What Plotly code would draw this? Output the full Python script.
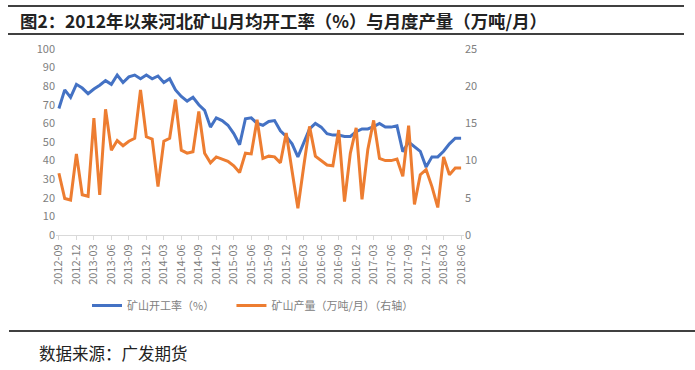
import plotly.graph_objects as go
import pandas as pd

months = pd.period_range("2012-09", "2018-06", freq="M").strftime("%Y-%m").tolist()

rate = [68, 78, 74, 81, 79, 76, 78.5, 80.5, 83, 81, 86, 82, 85, 86, 84, 86, 84, 85.5, 82, 84,
        78, 74.5, 72, 74, 70, 67, 58, 63, 61.5, 59, 54.5, 48.5, 62.5, 63, 60, 59, 61, 61.5, 56, 53,
        49, 42, 49.5, 57, 60, 58, 54.5, 53.7, 53.7, 53, 53, 55.5, 57, 57, 58.3, 60, 58, 58,
        58.7, 44.8, 50, 47.6, 45, 36.5, 42, 42, 45, 49, 52, 52]

output = [8.3, 4.9, 4.7, 10.9, 5.4, 5.2, 15.7, 5.4, 16.9, 11.4, 12.7, 12.0, 12.6, 13.0, 19.5, 13.2,
          12.9, 6.5, 12.6, 13.0, 18.2, 11.4, 11.0, 11.2, 16.6, 11.0, 9.7, 10.5, 10.2, 9.9, 9.3, 8.4,
          11.0, 10.9, 15.5, 10.3, 10.6, 10.5, 9.7, 13.7, 8.6, 3.6, 9.2, 14.6, 10.6, 10.0, 9.4, 9.3,
          14.1, 4.5, 11.0, 14.4, 4.8, 11.5, 15.4, 10.3, 10.0, 10.0, 10.2, 7.9, 14.7, 4.1, 8.1, 8.8,
          6.5, 3.7, 10.5, 8.1, 9.0, 9.0]

tick_labels = months[::3]

title_text = "图2：2012年以来河北矿山月均开工率（%）与月度产量（万吨/月）"
source_text = "数据来源：广发期货"
name_rate = "矿山开工率（%）"
name_output = "矿山产量（万吨/月）（右轴）"

BLUE = "#4472C4"
ORANGE = "#ED7D31"
GRAY = "#808080"
FONT = "Noto Sans CJK SC"

fig = go.Figure()
fig.add_trace(go.Scatter(x=months, y=rate, name=name_rate + "\u00a0" * 5, mode="lines",
                         line=dict(color=BLUE, width=3)))
fig.add_trace(go.Scatter(x=months, y=output, name=name_output, mode="lines",
                         line=dict(color=ORANGE, width=3), yaxis="y2"))

fig.update_layout(
    width=695, height=370,
    margin=dict(l=56, r=231, t=49, b=135, autoexpand=False),
    paper_bgcolor="white", plot_bgcolor="white",
    font=dict(family=FONT, color=GRAY, size=11),
    showlegend=True,
    legend=dict(orientation="h", xref="container", yref="container",
                x=87 / 695, y=1 - 291 / 370, xanchor="left", yanchor="top",
                font=dict(size=11, color=GRAY), itemwidth=30, tracegroupgap=0),
    xaxis=dict(type="category", range=[-0.5, len(months) - 0.5],
               tickmode="array", tickvals=tick_labels, ticktext=tick_labels,
               tickangle=-90, tickfont=dict(size=11, color=GRAY),
               showline=True, linecolor="#D9D9D9", linewidth=1,
               ticks="outside", ticklen=4, tickcolor="#D9D9D9",
               showgrid=False, zeroline=False),
    yaxis=dict(range=[0, 100], dtick=10, showgrid=False, zeroline=False,
               showline=False, tickfont=dict(size=11, color=GRAY), ticks=""),
    yaxis2=dict(range=[0, 25], dtick=5, overlaying="y", side="right",
                showgrid=False, zeroline=False, showline=False,
                tickfont=dict(size=11, color=GRAY)),
)

# title lines and title text
fig.add_shape(type="line", xref="paper", yref="paper",
              x0=-48 / 408, x1=628 / 408, y0=1 + (49 - 6) / 186, y1=1 + (49 - 6) / 186,
              line=dict(color="black", width=1.5))
fig.add_shape(type="line", xref="paper", yref="paper",
              x0=-48 / 408, x1=628 / 408, y0=1 + (49 - 34) / 186, y1=1 + (49 - 34) / 186,
              line=dict(color="black", width=1.5))
fig.add_annotation(text="<b>" + title_text + "</b>", xref="paper", yref="paper",
                   x=-38 / 408, y=1 + (49 - 21) / 186, xanchor="left", yanchor="middle",
                   showarrow=False, font=dict(family=FONT, size=17.4, color="#222222"))

# bottom line and source
fig.add_shape(type="line", xref="paper", yref="paper",
              x0=-47 / 408, x1=639 / 408, y0=-(331 - 235) / 186, y1=-(331 - 235) / 186,
              line=dict(color="black", width=1.5))
fig.add_annotation(text=source_text, xref="paper", yref="paper",
                   x=-19 / 408, y=-(353 - 235) / 186, xanchor="left", yanchor="middle",
                   showarrow=False, font=dict(family=FONT, size=16.5, color="#222222"))

fig.write_html("out.html", config={"displayModeBar": False},
               post_script="document.body.style.margin='0';")
